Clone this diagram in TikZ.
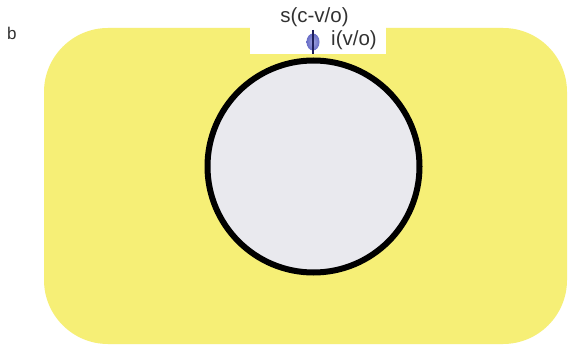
\documentclass[tikz,border=0pt]{standalone}
\usepackage{fontspec}
\setmainfont{Liberation Sans}
\definecolor{cellyellow}{RGB}{246,239,118}
\definecolor{cellgray}{RGB}{233,233,238}
\definecolor{txtgray}{RGB}{50,50,50}
\definecolor{dotblue}{RGB}{105,110,200}
\definecolor{dotdark}{RGB}{30,30,90}
\tikzset{
  lbl/.style={text=txtgray, font=\fontsize{20.5}{22}\selectfont, inner sep=0pt},
  cellbody/.style={fill=cellyellow, draw=none, rounded corners=64pt},
  nucleus/.style={circle, fill=cellgray, draw=black, line width=6pt, minimum size=212pt, inner sep=0pt},
}
\begin{document}
\begin{tikzpicture}[x=1pt,y=-1pt]
\useasboundingbox (0,0) rectangle (570,347);
\fill[white] (0,0) rectangle (570,347);
% cell body
\path[cellbody] (44,28) rectangle (567,344);
% notch
\fill[white] (250,20) rectangle (386,54);
% nucleus
\node[nucleus] (nuc) at (313.5,166.5) {};
% dot
\shade[inner color=dotblue!65, outer color=dotblue] (313,42) ellipse [x radius=6.5, y radius=8.5];
\coordinate (dtop) at (313,30);
\coordinate (dbot) at (313,54);
\draw[dotdark, line width=1.2pt] (dtop) -- (dbot);
% labels
\node[lbl, anchor=base] (s) at (314.5,23) {s(c-v/o)};
\node[lbl, anchor=base west] (i) at (331,46) {i(v/o)};
\node[lbl, anchor=base west, font=\fontsize{17}{19}\selectfont] (b) at (7,40) {b};
\end{tikzpicture}
\end{document}
